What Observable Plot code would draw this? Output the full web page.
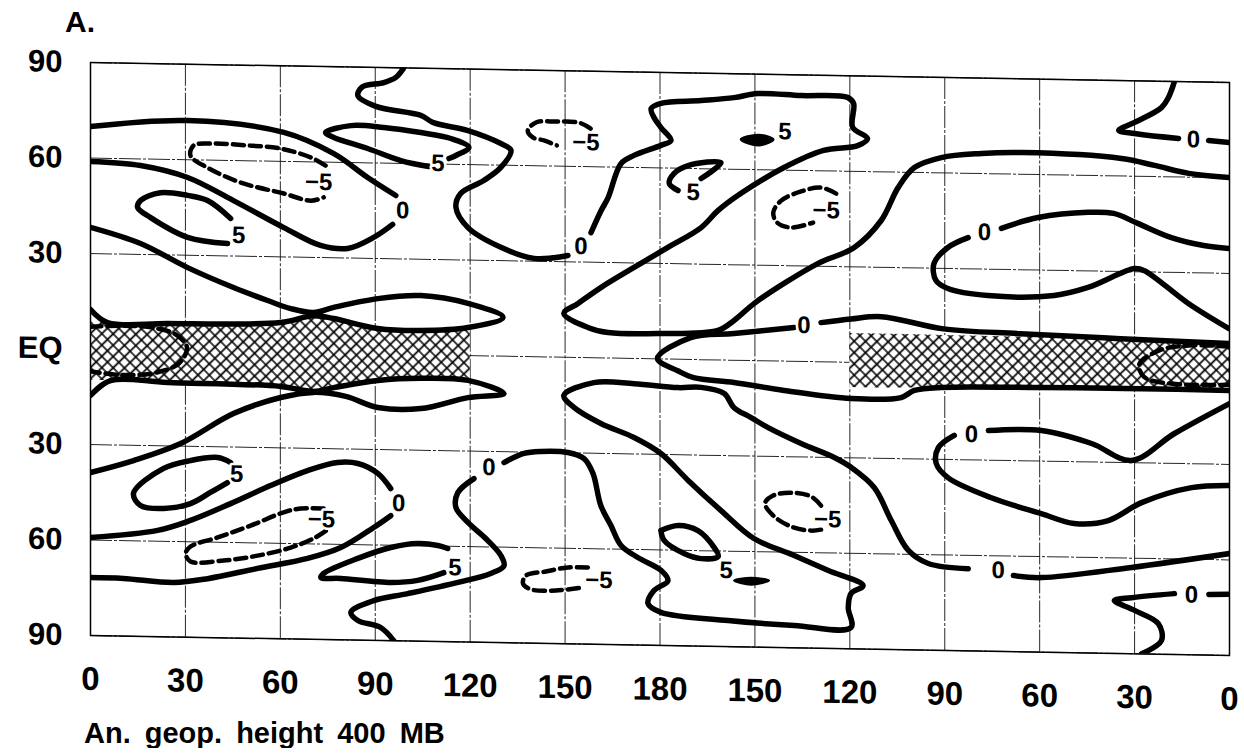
<!DOCTYPE html>
<html>
<head>
<meta charset="utf-8">
<script src="https://cdn.jsdelivr.net/npm/d3@7"></script>
<script src="https://cdn.jsdelivr.net/npm/@observablehq/plot@0.6"></script>
<style>
  body { margin: 0; background: #fff; }
  #title { height: 45px; box-sizing: border-box; padding: 7px 0 0 65px; font: bold 30px/30px "Liberation Sans", Arial, sans-serif; }
  #chart svg { display: block; transform: skewY(1deg); transform-origin: 90px 0; }
  #caption { padding: 14px 0 0 84px; font: bold 29px/29px "Liberation Sans", Arial, sans-serif; word-spacing: 6px; }
</style>
</head>
<body>
<div id="title">A.</div>
<div id="chart"></div>
<div id="caption">An. geop. height 400 MB</div>
<script>
// ---- axis ticks ----
const lonTicks = [0, 30, 60, 90, 120, 150, 180, 210, 240, 270, 300, 330, 360];
const latTicks = [-90, -60, -30, 0, 30, 60, 90];

// ---- solid contours, [lon (0..360 eastward), lat] ----
const c1a = [[0,69.9],[30.7,72.3],[61.1,69.1],[76.9,62.7],[87.6,55.4],[96.5,49.9]];
const c1b = [[95.5,40.8],[89.5,36.6],[81.3,33],[72.7,33.8],[61.1,39.2],[45.2,47.4],[30.7,54.4],[15.8,57.9],[0,58.9]];
const c2 = [[44.3,41.8],[37,47.3],[30.7,48.8],[22.1,49.5],[15.8,46.9],[14.9,44.7],[19,41.6],[30.7,35.6],[43.3,33.9]];
const c4 = [[0,38.2],[15.8,33.4],[30.7,26.1],[45.2,20.1],[56,16.2],[63.3,13.8],[70.5,12.7],[76.9,14.4],[90.8,17.4],[104.4,18.6],[119.3,16.4],[130.4,12.2],[119.3,8.8],[104.4,7.6],[90.8,8],[76.9,10.9],[70.5,11.7],[60.1,9.4],[24.4,8.4],[5.4,8.4],[0,12.4]];
const c4s = [[0,-38.8],[13.6,-34.8],[28.5,-29.2],[45.2,-19.5],[60.1,-14.2],[70.5,-12.4],[80.7,-13.5],[90.8,-16.8],[104.4,-16.9],[119.3,-13.2],[130.7,-11.7],[119.3,-7.8],[104.4,-7.4],[90.8,-8.3],[76.9,-10.8],[70.5,-12.1],[60.1,-10.7],[24.4,-10.1],[6.3,-9.8],[0,-14.6]];
const c5a = [[99,90],[96.5,87],[92.7,85.3],[86,83.9],[84.5,81.1],[90.2,77.8],[104.4,75.2],[108.4,73],[119.3,70.7],[129.7,66.8],[132.9,64.7],[129.7,59.3],[124.3,55.1],[117,50.9],[115.5,46.5],[119.3,40.2],[129.7,34.2],[140.2,30.9],[150.9,32]];
const c5b = [[158.2,39.3],[161.4,46.3],[163.6,50.4],[167.7,61.2],[171.8,63.8],[180.3,67.1],[183.5,68.7],[180.3,72.7],[178.1,75.8],[177.2,78.6],[180.3,80.3],[193,81.4],[203.4,82.5],[210.9,83.9],[224.6,83.5],[239.3,83.2],[241.2,81.3],[240.9,73.8],[245.6,70.4],[242.5,68.1],[231.7,66.4],[219.2,60.8],[205.5,52.4],[198.3,46.9],[193,41.5],[182.5,35.1],[171.8,28.6],[161.3,22.1],[154.1,17],[149.6,13.8],[157.2,9.5],[163.6,8],[180.3,8],[198.3,9.3],[203.4,12.5],[209.7,17.9],[219.2,24.4],[230,30.9],[241.4,36.1],[249.9,44.7],[255.3,55.2],[260.4,61.5],[268.9,64.8],[281.6,66.3],[294.3,66.8],[325.9,65.5],[336.3,63.5],[347.1,61.2],[360,60.1]];
const c6 = [[193,56.9],[199.3,62],[188.9,60.9],[184.4,58.3],[182.9,55.2],[185.7,53]];
const c9a = [[342.6,90],[340.7,84.9],[338.5,81.7],[330,76.9],[325,74.3],[330,73.4],[343.9,72.1]];
const c9b = [[353.4,71.6],[360,71.1]];
const c10a = [[360,37.8],[351.8,38.6],[341.4,41],[331,45.2],[323.4,48.2],[315.3,48.4],[299.5,46.5],[287.9,42.9]];
const c10b = [[277.4,39.8],[271,36.6],[266.6,31.5],[267.2,26.2],[271,23.7],[283.6,21.7],[304.6,22.1],[315.3,24.8],[330,31],[333.1,30.4],[347,20.3],[359.7,12.7]];
const c11a = [[360,8],[325.6,8.9],[294,9.9],[269.6,11],[249.9,14.5],[240.4,13.6],[230.9,12.3]];
const c11b = [[222.4,10.6],[203.4,8.4],[189.7,6.9],[179.2,0.1],[185.6,-3.6],[190.6,-5.7],[203.4,-7],[219.2,-9.2],[240.4,-11.4],[256.2,-10.8],[260.4,-8.5],[268.9,-7.4],[300.5,-6.9],[332.2,-6.7],[360,-6.8]];
const c12a = [[360,-10.9],[342.6,-20.6],[329,-29.3],[316.4,-24.2],[300.5,-20.4],[283.8,-20.7]];
const c12b = [[273,-22.4],[268,-26.3],[267.3,-31.3],[271,-35.7],[284.5,-41.7],[300.5,-46.5],[310.9,-49.4],[321.7,-48.3],[332.2,-42.5],[348,-37.5],[360,-36.6]];
const c14 = [[44.3,-34.9],[40.2,-33.4],[31.6,-34.5],[23.1,-37.1],[13.6,-45.1],[15.8,-48.9],[23.1,-49.7],[31.6,-48],[37.9,-44.4],[43.3,-41.2]];
const c15a = [[0,-59.2],[21.2,-56.6],[31.6,-53.3],[44.3,-47.8],[56.9,-41.9],[68.6,-37],[78.1,-34.3],[84.5,-34.5],[90.8,-37.5],[94.9,-42.2]];
const c15b = [[94.9,-50.7],[89.5,-54.5],[79.1,-61],[68.6,-64.6],[52.8,-68],[37,-71.5],[26.3,-72.9],[10.4,-71.9],[0,-71.8]];
const c17 = [[112.9,-60.7],[109.8,-59.8],[103.4,-59.3],[94.9,-60.7],[84.5,-64.3],[73.7,-69.2],[72.8,-70.5],[79.1,-70.7],[94.9,-71.7],[103.4,-70.9],[111.7,-68.3]];
const c18a = [[95.9,-90],[91.7,-85.9],[84.5,-83.8],[82.3,-81.3],[89.5,-77.5],[100.3,-75.1],[116.1,-71.3],[126.5,-68.3],[130.7,-65.8],[129.7,-62.6],[125.6,-58],[119.3,-52.4],[115.5,-47.8],[116.1,-43.1],[121.2,-38.6]];
const c18b = [[130.7,-33.4],[137,-30.4],[142.4,-29.7],[150.9,-29.9],[156,-31.7],[158.8,-36.3],[161.3,-46.4],[164.5,-52.6],[167.7,-58.8],[173,-62.5],[180.3,-66.4],[182.5,-69.6],[178.1,-72.8],[176.2,-76.9],[180.3,-79.6],[201.5,-81.8],[222.4,-83],[240.4,-83.3],[239.5,-77.1],[240.4,-72.6],[244.2,-70.1],[233.2,-65.5],[222.4,-61],[209.7,-55.9],[199.3,-47.3],[188.9,-38],[180.3,-29.7],[171.8,-24.8],[161.3,-20.6],[152.8,-15.7],[149.6,-12],[159.1,-7.8],[171.8,-7.9],[185.7,-8.9],[193,-8.7],[200.3,-10.5],[203.4,-14.9],[208.8,-17.9],[214.2,-21],[224.6,-25.8],[235.1,-30],[240.4,-33],[247.7,-39.2],[253.1,-49.5],[258.5,-58.8],[264.8,-62.8],[277.4,-64.2]];
const c18c = [[291.7,-66.1],[300.5,-66.6],[329,-62.9],[360,-58]];
const c19a = [[360,-70.8],[353.5,-71]];
const c19b = [[342.6,-70.9],[329,-72.4],[323.6,-73.4],[330,-76.4],[337.5,-80.4],[338.5,-85.7],[332.2,-90]];
const c21 = [[180.3,-53.9],[185.7,-52.2],[192,-53.7],[197.1,-58.9],[198.4,-61.7],[193,-62.5],[187.6,-61],[181.3,-57],[180.3,-53.9]];
const c23 = [[106.9,59.2],[98.1,60.9],[87.6,64.5],[76.9,67.8],[74.3,69.3],[82.3,71.6],[92.7,71.2],[104.4,69.8],[113.9,68.1],[119.6,65.4],[115.5,62.8],[113.3,61.8]];

// ---- dashed (negative) contours ----
const c3 = [[74.3,58.9],[69.6,61.4],[60.1,64],[49.7,64.8],[38.9,65.2],[32.6,64.5],[31.6,61.3],[37,57.6],[47.5,53.1],[61.1,49.9],[69.6,47.8],[73.7,48.9]];
const c7 = [[158.1,72],[154.4,73.8],[147.1,74],[140.8,73.6],[138.2,71],[139.8,68.9],[143.3,68],[147.4,66.5]];
const c8 = [[235.7,52.9],[230.9,54.7],[224.6,53.4],[218.3,50.4],[215.8,46.6],[217,43.5],[221.4,42],[228.4,43.7]];
const c16 = [[73.7,-48.8],[64.2,-49.3],[50.6,-54.6],[40.2,-58.5],[31.6,-61.5],[30.1,-63.7],[31.6,-66.2],[42.1,-65.7],[52.8,-64],[63.3,-61.3],[70.5,-58.3],[75,-55.4]];
const c20 = [[157.2,-65.9],[150.9,-66],[143.9,-67.4],[137.6,-68.8],[136.7,-71.3],[139.2,-73.1],[147.1,-73.3],[155,-72.3]];
const c22 = [[230.9,-45.2],[227.8,-42.4],[221.4,-41.3],[215.8,-42.3],[213.2,-44.8],[215.8,-48.6],[221.4,-51.9],[227.8,-53.1],[232.5,-52.4]];
const h1 = [[0,7],[10,7.5],[20,7],[27,5],[30.5,1],[28,-4],[21,-7],[10,-8],[0,-7]];
const h2 = [[360,7],[348,7.2],[338,5.5],[331.5,1],[333,-3],[342,-5],[360,-5]];

// ---- small filled "5" lenses ----
const lens1 = [[205.5,69.4],[211.2,71],[215.9,69.6],[211.2,67.6]];
const lens2 = [[203.4,-69.2],[208.8,-68.2],[214.5,-69],[208.8,-70.4]];

// ---- cross-hatched equatorial bands [lon, lower lat, upper lat] ----
const hatchWest = [[0,-9.8,8.4],[5.4,-9.8,8.4],[24.4,-10.1,8.4],[60.1,-10.7,9.4],[70.5,-12.1,11.7],[76.9,-10.8,10.9],[90.8,-8.3,8],[104.4,-7.4,7.6],[120,-7.8,8.8]];
const hatchEast = [[240,-7.9,9],[258,-7.8,9],[270,-7.4,8.9],[300,-6.9,8.8],[330,-6.7,8.4],[360,-6.8,8]];

// ---- contour labels [lon, lat, text] ----
const contourLabels = [
  [98.7,45.2,"0"],[46.8,36.5,"5"],[72.1,53.6,"\u22125"],[109.8,60.2,"5"],[155,34.9,"0"],
  [190.5,52.5,"5"],[156.6,67.6,"\u22125"],[219.5,72.1,"5"],[232.5,47.5,"\u22125"],
  [348.6,71.8,"0"],[282.5,41.5,"0"],[225.5,11.3,"0"],[278.4,-22,"0"],
  [46.2,-38.5,"5"],[97.4,-46.8,"0"],[73,-52.3,"\u22125"],[115.2,-66.7,"5"],[125.9,-35,"0"],
  [160.7,-69.9,"\u22125"],[200.9,-66.1,"5"],[233,-49.5,"\u22125"],[286.9,-64.6,"0"],[348,-71.2,"0"]
];

// ---- build tables ----
const solidSets = {c1a,c1b,c2,c4,c4s,c5a,c5b,c6,c9a,c9b,c10a,c10b,c11a,c11b,c12a,c12b,c14,c15a,c15b,c17,c18a,c18b,c18c,c19a,c19b,c21,c23};
const dashedSets = {c3,c7,c8,c16,c20,c22,h1,h2};
const lensSets = {lens1, lens2};
const toRows = (sets) => Object.entries(sets).flatMap(([id, pts]) => pts.map(([lon, lat]) => ({id, lon, lat})));
const solidRows = toRows(solidSets);
const dashedRows = toRows(dashedSets);
const lensRows = toRows(lensSets);
const hatchRows = [
  ...hatchWest.map(([lon, lo, hi]) => ({part: "w", lon, lo, hi})),
  ...hatchEast.map(([lon, lo, hi]) => ({part: "e", lon, lo, hi}))
];
const labelRows = contourLabels.map(([lon, lat, text]) => ({lon, lat, text}));

const chart = Plot.plot({
  width: 1244,
  height: 660,
  marginLeft: 90,
  marginRight: 15,
  marginTop: 17,
  marginBottom: 70,
  style: {fontFamily: "'Liberation Sans', Arial, sans-serif", background: "white", color: "black", overflow: "visible"},
  x: {domain: [0, 360], axis: null},
  y: {domain: [-90, 90], axis: null},
  marks: [
    Plot.gridX(lonTicks, {stroke: "#111", strokeOpacity: 0.9, strokeWidth: 1, strokeDasharray: "22,2,3,2"}),
    Plot.gridY(latTicks, {stroke: "#111", strokeOpacity: 0.9, strokeWidth: 1, strokeDasharray: "22,2,3,2"}),
    Plot.areaY(hatchRows, {x: "lon", y1: "lo", y2: "hi", z: "part", fill: "url(#xh)", curve: "monotone-x"}),
    Plot.frame({stroke: "black", strokeWidth: 1.5}),
    Plot.line(dashedRows, {x: "lon", y: "lat", z: "id", curve: "catmull-rom", stroke: "black", strokeWidth: 4.5, strokeDasharray: "11,6", clip: true}),
    Plot.line(solidRows, {x: "lon", y: "lat", z: "id", curve: "catmull-rom", stroke: "black", strokeWidth: 5.5, strokeLinecap: "round", strokeLinejoin: "round", clip: true}),
    Plot.line(lensRows, {x: "lon", y: "lat", z: "id", curve: "catmull-rom-closed", stroke: "black", strokeWidth: 2, fill: "black"}),
    Plot.text(labelRows, {x: "lon", y: "lat", text: "text", fontSize: 24, fontWeight: "bold", fill: "black", stroke: "white", strokeWidth: 5, paintOrder: "stroke"}),
    Plot.axisX(lonTicks, {tickSize: 0, tickPadding: 31, tickFormat: d => d <= 180 ? d : 360 - d, fontSize: 33, fontWeight: "bold", fontFamily: "'Liberation Sans Narrow', 'Liberation Sans', Arial, sans-serif", label: null}),
    Plot.axisY(latTicks, {tickSize: 0, tickPadding: 28, tickFormat: d => d === 0 ? "EQ" : Math.abs(d), fontSize: 31, fontWeight: "bold", label: null})
  ]
});

// cross-hatch pattern used by the equatorial band fill
const ns = "http://www.w3.org/2000/svg";
const defs = document.createElementNS(ns, "defs");
defs.innerHTML = '<pattern id="xh" width="8" height="8" patternUnits="userSpaceOnUse" patternTransform="rotate(45)"><rect width="8" height="8" fill="white"/><path d="M0 4H8M4 0V8" stroke="black" stroke-width="1.7"/></pattern>';
chart.insertBefore(defs, chart.firstChild);
document.getElementById("chart").appendChild(chart);
</script>
</body>
</html>
